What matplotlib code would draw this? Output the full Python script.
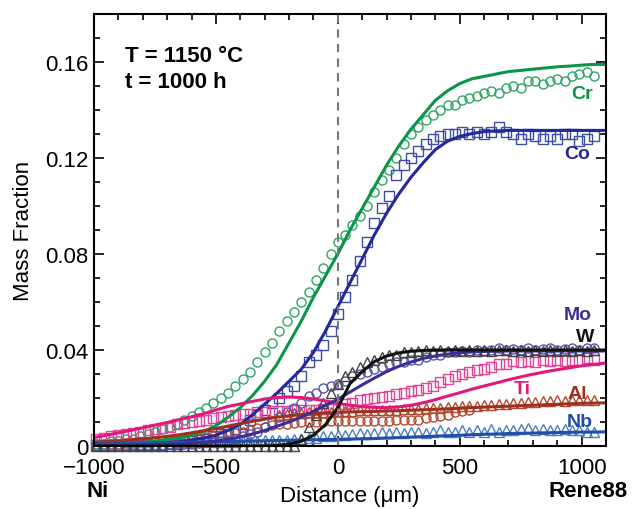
import matplotlib
matplotlib.use("Agg")
import matplotlib.pyplot as plt
from matplotlib.ticker import MultipleLocator

plt.rcParams["font.family"] = ["Liberation Sans", "DejaVu Sans"]

# posiciones de medida (µm) para los datos experimentales
X_EXP = [-990, -960, -930, -900, -870, -840, -810, -780, -750, -720, -690,
         -660, -630, -600, -570, -540, -510, -480, -450, -420, -390, -360,
         -330, -300, -270, -240, -210, -180, -150, -120, -90, -60, -30, 0,
         30, 60, 90, 120, 150, 180, 210, 240, 270, 300, 330, 360, 390, 420,
         450, 480, 510, 540, 570, 600, 630, 660, 690, 720, 750, 780, 810,
         840, 870, 900, 930, 960, 990, 1020, 1050]

CR_EXP = [0.001, 0.001, 0.002, 0.002, 0.003, 0.003, 0.004, 0.005, 0.006,
          0.007, 0.008, 0.009, 0.011, 0.0125, 0.014, 0.016, 0.018, 0.020,
          0.022, 0.025, 0.028, 0.031, 0.035, 0.039, 0.043, 0.048, 0.052,
          0.056, 0.060, 0.064, 0.069, 0.074, 0.080, 0.085, 0.088, 0.092,
          0.096, 0.100, 0.106, 0.111, 0.115, 0.120, 0.126, 0.130, 0.133,
          0.136, 0.138, 0.140, 0.142, 0.142, 0.144, 0.145, 0.146, 0.147,
          0.148, 0.147, 0.149, 0.150, 0.149, 0.152, 0.152, 0.151, 0.152,
          0.153, 0.152, 0.154, 0.155, 0.156, 0.154]

CO_EXP = [0.0005, 0.0005, 0.0005, 0.0005, 0.0005, 0.0005, 0.0005, 0.0005,
          0.0005, 0.0005, 0.001, 0.001, 0.0015, 0.002, 0.0025, 0.003, 0.004,
          0.005, 0.006, 0.007, 0.009, 0.011, 0.013, 0.015, 0.018, 0.020,
          0.023, 0.025, 0.029, 0.035, 0.038, 0.042, 0.048, 0.055, 0.062,
          0.069, 0.077, 0.085, 0.093, 0.099, 0.104, 0.113, 0.117, 0.120,
          0.123, 0.126, 0.128, 0.129, 0.130, 0.130, 0.131, 0.130, 0.131,
          0.130, 0.131, 0.133, 0.131, 0.130, 0.128, 0.130, 0.129, 0.128,
          0.129, 0.128, 0.130, 0.130, 0.127, 0.128, 0.129]

MO_EXP = [0.0, 0.0, 0.0, 0.0, 0.0, 0.0005, 0.0005, 0.0005, 0.0005, 0.0005,
          0.001, 0.001, 0.001, 0.001, 0.0012, 0.0015, 0.0018, 0.002, 0.0025,
          0.003, 0.004, 0.005, 0.006, 0.008, 0.010, 0.012, 0.014, 0.016,
          0.018, 0.021, 0.022, 0.024, 0.025, 0.026, 0.027, 0.029, 0.030,
          0.031, 0.032, 0.033, 0.034, 0.035, 0.035, 0.036, 0.036, 0.037,
          0.038, 0.038, 0.039, 0.039, 0.0395, 0.039, 0.040, 0.0395, 0.040,
          0.041, 0.040, 0.0405, 0.040, 0.041, 0.040, 0.0405, 0.041, 0.040,
          0.0405, 0.041, 0.040, 0.041, 0.041]

W_EXP = [0.0, 0.0, 0.0, 0.0, 0.0, 0.0, 0.0, 0.0, 0.0, 0.0, 0.0, 0.0, 0.0,
         0.0, 0.0, 0.0, 0.0, 0.0, 0.0, 0.0, 0.0, 0.0, 0.0, 0.0, 0.0, 0.0,
         0.0, 0.0, 0.003, 0.008, 0.013, 0.018, 0.022, 0.026, 0.029, 0.031,
         0.033, 0.035, 0.036, 0.037, 0.038, 0.038, 0.039, 0.039, 0.0395,
         0.040, 0.0395, 0.040, 0.0395, 0.040, 0.0395, 0.040, 0.0395,
         0.040, 0.0395, 0.040, 0.040, 0.0395, 0.040, 0.0395, 0.040, 0.0395,
         0.040, 0.0395, 0.040, 0.0395, 0.040, 0.0395, 0.040]

TI_EXP = [0.003, 0.0035, 0.004, 0.0045, 0.005, 0.0055, 0.006, 0.0065,
          0.007, 0.0075, 0.008, 0.009, 0.0095, 0.010, 0.0105, 0.011,
          0.0115, 0.012, 0.0125, 0.013, 0.0135, 0.0135, 0.014, 0.014,
          0.0145, 0.0145, 0.0145, 0.015, 0.015, 0.015, 0.015, 0.0155,
          0.0155, 0.016, 0.0175, 0.018, 0.019, 0.0195, 0.020, 0.0205,
          0.021, 0.0215, 0.022, 0.023, 0.0235, 0.024, 0.025, 0.0265, 0.028,
          0.029, 0.030, 0.031, 0.0315, 0.032, 0.033, 0.034, 0.034, 0.0355,
          0.035, 0.0355, 0.035, 0.036, 0.0355, 0.036, 0.0355, 0.036, 0.036,
          0.0365, 0.036]

NB_EXP = [0.001, 0.001, 0.001, 0.001, 0.001, 0.001, 0.001, 0.001, 0.001,
          0.001, 0.001, 0.0015, 0.0015, 0.0015, 0.0015, 0.0015, 0.0015,
          0.0015, 0.0015, 0.0015, 0.002, 0.002, 0.002, 0.0025, 0.0025,
          0.0025, 0.0025, 0.003, 0.003, 0.0035, 0.0035, 0.004, 0.004,
          0.0045, 0.0045, 0.005, 0.0055, 0.005, 0.0055, 0.006, 0.0055,
          0.006, 0.0055, 0.006, 0.006, 0.0055, 0.006, 0.0065, 0.006, 0.006,
          0.0065, 0.006, 0.0065, 0.006, 0.007, 0.006, 0.0065, 0.0065, 0.007,
          0.0075, 0.0065, 0.007, 0.0065, 0.0065, 0.007, 0.0065, 0.0065,
          0.006, 0.006]

# Al: dos series (circulos hasta ~540 µm, triangulos desde -240 µm)
AL_CIRC_X = X_EXP[:52]
AL_CIRC = [0.0005, 0.0005, 0.001, 0.001, 0.0012, 0.0014, 0.0016, 0.0018,
           0.002, 0.0022, 0.0024, 0.0026, 0.0028, 0.003, 0.0033, 0.0037,
           0.004, 0.0045, 0.005, 0.0055, 0.006, 0.0068, 0.0075, 0.008,
           0.0087, 0.009, 0.0093, 0.0096, 0.0098, 0.010, 0.010, 0.0102,
           0.0103, 0.0104, 0.0104, 0.0104, 0.0104, 0.0105, 0.0105, 0.0106,
           0.0106, 0.0107, 0.0108, 0.011, 0.011, 0.0115, 0.012, 0.0125,
           0.013, 0.014, 0.0145, 0.015]
AL_TRI_X = X_EXP[25:]
AL_TRI = [0.013, 0.0133, 0.0136, 0.0138, 0.014, 0.014, 0.0142, 0.0143,
          0.0145, 0.0146, 0.0147, 0.0148, 0.0148, 0.015, 0.015, 0.0151,
          0.0152, 0.0153, 0.0155, 0.0155, 0.0157, 0.0158, 0.016, 0.0162,
          0.0163, 0.0165, 0.0166, 0.0168, 0.017, 0.0172, 0.0175, 0.0176,
          0.0178, 0.018, 0.0185, 0.0183, 0.0188, 0.0186, 0.019, 0.0188,
          0.019, 0.0192, 0.019, 0.019]

# curvas calculadas (modelo)
X_LINE = [-1000, -950, -900, -850, -800, -750, -700, -650, -600, -550, -500,
          -450, -400, -350, -300, -250, -200, -150, -100, -50, 0, 50, 100,
          150, 200, 250, 300, 350, 400, 450, 500, 550, 600, 650, 700, 750,
          800, 850, 900, 950, 1000, 1050, 1100]

CR_LINE = [0.0005, 0.0007, 0.001, 0.0012, 0.0015, 0.002, 0.0028, 0.0035,
           0.0045, 0.006, 0.0085, 0.012, 0.016, 0.021, 0.027, 0.034, 0.043,
           0.052, 0.062, 0.071, 0.080, 0.090, 0.099, 0.108, 0.117, 0.125,
           0.132, 0.138, 0.144, 0.148, 0.151, 0.153, 0.154, 0.155, 0.156,
           0.1565, 0.157, 0.1575, 0.158, 0.1583, 0.1587, 0.159, 0.159]
CO_LINE = [0.0002, 0.0003, 0.0004, 0.0005, 0.0007, 0.001, 0.0013, 0.0018,
           0.0025, 0.0033, 0.0045, 0.0065, 0.009, 0.013, 0.0175, 0.022,
           0.027, 0.032, 0.039, 0.048, 0.058, 0.068, 0.078, 0.088, 0.097,
           0.105, 0.112, 0.118, 0.1235, 0.127, 0.129, 0.1302, 0.131, 0.1313,
           0.1315, 0.1315, 0.1315, 0.1315, 0.1315, 0.1315, 0.1315, 0.1315,
           0.1315]
MO_LINE = [0.0, 0.0, 0.0001, 0.0002, 0.0003, 0.0004, 0.0006, 0.0008, 0.0011,
           0.0015, 0.002, 0.0028, 0.0038, 0.005, 0.0065, 0.0082, 0.010,
           0.012, 0.0145, 0.017, 0.0195, 0.0225, 0.0255, 0.0283, 0.031,
           0.0332, 0.035, 0.0365, 0.0375, 0.0383, 0.0388, 0.0392, 0.0394,
           0.0395, 0.0396, 0.0396, 0.0396, 0.0396, 0.0396, 0.0396, 0.0396,
           0.0396, 0.0396]
W_LINE = [0.0, 0.0, 0.0, 0.0, 0.0, 0.0, 0.0, 0.0, 0.0, 0.0, 0.0, 0.0, 0.0,
          0.0, 0.0, 0.0002, 0.0008, 0.002, 0.0045, 0.009, 0.016, 0.026,
          0.031, 0.0352, 0.0375, 0.0388, 0.0395, 0.0398, 0.040, 0.040,
          0.040, 0.040, 0.040, 0.040, 0.040, 0.040, 0.040, 0.040, 0.040,
          0.040, 0.040, 0.040, 0.040]
TI_LINE = [0.0035, 0.0045, 0.0055, 0.0065, 0.0076, 0.0087, 0.0098, 0.011,
           0.0122, 0.0135, 0.015, 0.0165, 0.0175, 0.0186, 0.0196, 0.0202,
           0.0204, 0.0202, 0.0196, 0.0188, 0.0178, 0.017, 0.0164, 0.0161,
           0.016, 0.0163, 0.017, 0.018, 0.0193, 0.0208, 0.0222, 0.0237,
           0.025, 0.0263, 0.0276, 0.0288, 0.0299, 0.0309, 0.0318, 0.0326,
           0.0334, 0.034, 0.0346]
AL_LINE = [0.0015, 0.0018, 0.0021, 0.0025, 0.003, 0.0035, 0.004, 0.0047,
           0.0055, 0.0064, 0.0073, 0.0083, 0.0093, 0.0103, 0.0112, 0.012,
           0.0126, 0.0131, 0.0135, 0.0138, 0.014, 0.0142, 0.0143, 0.0144,
           0.0146, 0.0147, 0.0149, 0.0151, 0.0153, 0.0155, 0.0157, 0.016,
           0.0162, 0.0164, 0.0166, 0.0168, 0.017, 0.0172, 0.0174, 0.0176,
           0.0178, 0.0179, 0.018]
NB_LINE = [0.0008, 0.0009, 0.001, 0.0011, 0.0012, 0.0013, 0.0014, 0.0015,
           0.0016, 0.0017, 0.0018, 0.0019, 0.002, 0.0021, 0.0022, 0.0023,
           0.0024, 0.0025, 0.0026, 0.0027, 0.0028, 0.0029, 0.003, 0.0031,
           0.0033, 0.0035, 0.0037, 0.0039, 0.0041, 0.0043, 0.0045, 0.0047,
           0.0049, 0.005, 0.0052, 0.0053, 0.0054, 0.0055, 0.0056, 0.0057,
           0.0058, 0.0058, 0.0059]

# colores por elemento
C_CR = "#0b9548"
C_CO = "#25289a"
C_MO = "#3a2f96"
C_W = "#111111"
C_TI = "#e3187c"
C_AL = "#9c3120"
C_NB = "#1f4fa6"

fig = plt.figure(figsize=(6.39, 5.10), dpi=100)
ax = fig.add_axes([0.1471, 0.1235, 0.8013, 0.8471])

mk = dict(linestyle="none", markerfacecolor="none", markersize=6.5,
          markeredgewidth=1.0, clip_on=False)

# datos experimentales
ax.plot(X_EXP, CR_EXP, marker="o", color="#2ea564", **mk)
ax.plot(X_EXP, CO_EXP, marker="s", color="#3d4ea8", **mk)
ax.plot(X_EXP, TI_EXP, marker="s", color="#e2439b", **mk)
ax.plot(AL_CIRC_X, AL_CIRC, marker="o", color="#b5492e", **mk)
ax.plot(AL_TRI_X, AL_TRI, marker="^", color="#b5492e", **mk)
ax.plot(X_EXP, NB_EXP, marker="^", color="#4d7ec4", **mk)
ax.plot(X_EXP, MO_EXP, marker="o", color="#5a55a8", **mk)
ax.plot(X_EXP, W_EXP, marker="^", color="#444444", **mk)

# curvas calculadas
for y, c in [(CR_LINE, C_CR), (CO_LINE, C_CO), (TI_LINE, C_TI),
             (AL_LINE, C_AL), (NB_LINE, C_NB), (MO_LINE, C_MO),
             (W_LINE, C_W)]:
    ax.plot(X_LINE, y, color=c, lw=2.2)

# intercara original
ax.axvline(0, color="#777777", lw=1.5, linestyle=(0, (4, 3)))

ax.set_xlim(-1000, 1100)
ax.set_ylim(0, 0.18)
ax.xaxis.set_major_locator(MultipleLocator(500))
ax.xaxis.set_minor_locator(MultipleLocator(100))
ax.yaxis.set_major_locator(MultipleLocator(0.04))
ax.yaxis.set_minor_locator(MultipleLocator(0.01))
ax.set_yticks([0, 0.04, 0.08, 0.12, 0.16])
ax.set_yticklabels(["0", "0.04", "0.08", "0.12", "0.16"])
ax.tick_params(which="both", direction="in", top=True, right=True,
               labelsize=16, width=1.2)
ax.tick_params(which="major", length=7)
ax.tick_params(which="minor", length=4)
ax.tick_params(axis="x", pad=8)
ax.tick_params(axis="y", pad=4)
for s in ax.spines.values():
    s.set_linewidth(1.5)

ax.set_xlabel("Distance (μm)", fontsize=16, labelpad=5)
ax.set_ylabel("Mass Fraction", fontsize=16, labelpad=8)

fig.text(86 / 639, 1 - 492 / 510, "Ni", fontsize=16, fontweight="bold",
         ha="left", va="center")
fig.text(628 / 639, 1 - 492 / 510, "Rene88", fontsize=16, fontweight="bold",
         ha="right", va="center")

ax.text(-874, 0.1625, "T = 1150 °C", fontsize=16, fontweight="bold",
        ha="left", va="center")
ax.text(-874, 0.152, "t = 1000 h", fontsize=16, fontweight="bold",
        ha="left", va="center")

etiquetas = [("Cr", 1001, 0.1467, C_CR), ("Co", 980, 0.122, C_CO),
             ("Mo", 984, 0.055, C_MO), ("W", 1013, 0.0458, C_W),
             ("Ti", 755, 0.0238, C_TI), ("Al", 984, 0.0217, C_AL),
             ("Nb", 992, 0.0104, C_NB)]
for txt, x, y, c in etiquetas:
    ax.text(x, y, txt, fontsize=14, fontweight="bold", color=c,
            ha="center", va="center")

fig.savefig("out.png", dpi=100)
